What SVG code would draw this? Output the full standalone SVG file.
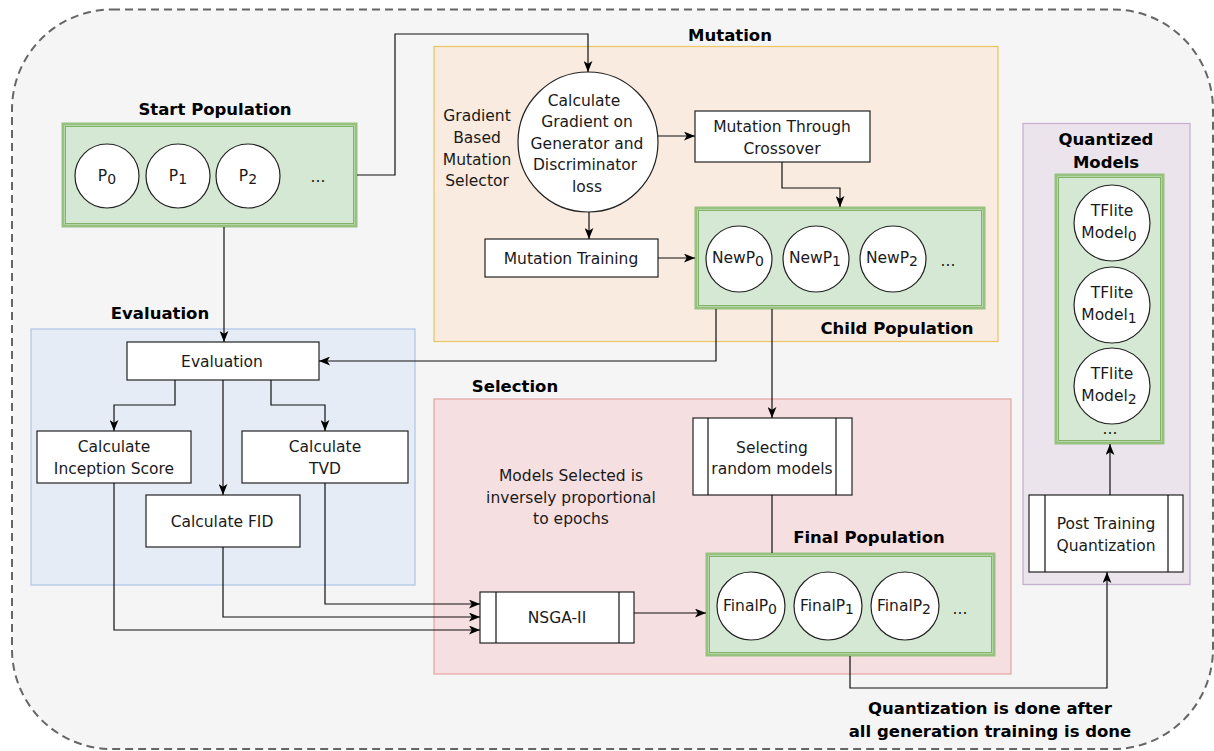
<svg xmlns="http://www.w3.org/2000/svg" width="1214" height="751" viewBox="0 0 1214 751">
<defs>
<marker id="arr" viewBox="0 0 10 8" refX="10" refY="4" markerWidth="11" markerHeight="9" markerUnits="userSpaceOnUse" orient="auto">
<path d="M0,0 L10,4 L0,8 L2.5,4 z" fill="#000"/>
</marker>
<style>
text{font-family:"DejaVu Sans","Liberation Sans",sans-serif;font-size:15.5px;fill:#1a1a1a}
.t{font-weight:bold;font-size:16.5px;fill:#000}
.c{text-anchor:middle}
.box{fill:#fff;stroke:#222;stroke-width:1.2}
.circ{fill:#fff;stroke:#222;stroke-width:1.2}
.gout{fill:#d5e8d4;stroke:#97c17e;stroke-width:3}
.gin{fill:none;stroke:#82b366;stroke-width:1}
.ln{fill:none;stroke:#111;stroke-width:1.2}
.ar{fill:none;stroke:#111;stroke-width:1.2;marker-end:url(#arr)}
.sub{font-size:14px}
</style>
</defs>
<rect id="outer" x="12" y="9.5" width="1201" height="739.5" rx="100" ry="100" fill="#f5f5f5" stroke="#666" stroke-width="2" stroke-dasharray="8,5"/>

<g id="mutation">
<rect x="434" y="46.5" width="564" height="295" fill="#f9ebdf" stroke="#ecc86d" stroke-width="1.3"/>
<text class="t c" x="730" y="41">Mutation</text>
</g>
<g id="evaluation-group">
<rect x="31" y="329" width="384" height="256" fill="#e6ecf6" stroke="#b3c8e8" stroke-width="1.3"/>
<text class="t c" x="160" y="319">Evaluation</text>
</g>
<g id="selection">
<rect x="434" y="399" width="577" height="275" fill="#f6dfe0" stroke="#e6a9a8" stroke-width="1.3"/>
<text class="t c" x="515" y="392">Selection</text>
</g>
<g id="quantized">
<rect x="1023" y="123.5" width="167" height="461" fill="#ebe4ec" stroke="#c7b1d2" stroke-width="1.3"/>
<text class="t c" x="1106" y="145">Quantized</text>
<text class="t c" x="1106" y="168">Models</text>
</g>

<g id="start-population">
<text class="t c" x="215" y="115">Start Population</text>
<rect class="gout" x="63" y="124" width="293" height="102"/>
<rect class="gin" x="65.5" y="126.5" width="288" height="97"/>
<circle class="circ" cx="107" cy="176" r="32"/>
<circle class="circ" cx="178" cy="176" r="32"/>
<circle class="circ" cx="248" cy="176" r="32"/>
<text class="c" x="107" y="181">P<tspan class="sub" dy="3">0</tspan></text>
<text class="c" x="178" y="181">P<tspan class="sub" dy="3">1</tspan></text>
<text class="c" x="248" y="181">P<tspan class="sub" dy="3">2</tspan></text>
<text class="c" x="318" y="182">...</text>
</g>

<g id="gradient-selector">
<text class="c" x="477" y="121">Gradient</text>
<text class="c" x="477" y="143">Based</text>
<text class="c" x="477" y="165">Mutation</text>
<text class="c" x="477" y="186">Selector</text>
</g>
<g id="calc-gradient">
<circle class="circ" cx="588" cy="142" r="70"/>
<text class="c" x="584" y="106">Calculate</text>
<text class="c" x="587" y="127">Gradient on</text>
<text class="c" x="587" y="149">Generator and</text>
<text class="c" x="585" y="170">Discriminator</text>
<text class="c" x="587" y="192">loss</text>
</g>
<g id="crossover">
<rect class="box" x="695" y="111" width="175" height="51"/>
<text class="c" x="782" y="132">Mutation Through</text>
<text class="c" x="782" y="154">Crossover</text>
</g>
<g id="mutation-training">
<rect class="box" x="485" y="239" width="173" height="38"/>
<text class="c" x="571" y="264">Mutation Training</text>
</g>
<g id="child-population">
<rect class="gout" x="696" y="208" width="288" height="100"/>
<rect class="gin" x="698.5" y="210.5" width="283" height="95"/>
<circle class="circ" cx="739" cy="259" r="33"/>
<circle class="circ" cx="816" cy="259" r="33"/>
<circle class="circ" cx="893" cy="259" r="33"/>
<text class="c" x="738" y="263">NewP<tspan class="sub" dy="3">0</tspan></text>
<text class="c" x="815" y="263">NewP<tspan class="sub" dy="3">1</tspan></text>
<text class="c" x="892" y="263">NewP<tspan class="sub" dy="3">2</tspan></text>
<text class="c" x="948" y="266">...</text>
<text class="t c" x="897" y="334">Child Population</text>
</g>

<g id="evaluation">
<rect class="box" x="127" y="342" width="192" height="38"/>
<text class="c" x="222" y="367">Evaluation</text>
</g>
<g id="inception">
<rect class="box" x="37" y="431" width="154" height="52"/>
<text class="c" x="114" y="452">Calculate</text>
<text class="c" x="114" y="474">Inception Score</text>
</g>
<g id="tvd">
<rect class="box" x="242" y="431" width="166" height="52"/>
<text class="c" x="325" y="452">Calculate</text>
<text class="c" x="325" y="474">TVD</text>
</g>
<g id="fid">
<rect class="box" x="146" y="495" width="154" height="52"/>
<text class="c" x="222" y="527">Calculate FID</text>
</g>

<g id="selecting-random">
<rect class="box" x="693" y="418" width="159" height="77"/>
<line class="ln" x1="708" y1="418" x2="708" y2="495"/>
<line class="ln" x1="836" y1="418" x2="836" y2="495"/>
<text class="c" x="772" y="453">Selecting</text>
<text class="c" x="772" y="474">random models</text>
</g>
<g id="selection-note">
<text class="c" x="571" y="481">Models Selected is</text>
<text class="c" x="571" y="503">inversely proportional</text>
<text class="c" x="571" y="524">to epochs</text>
</g>
<g id="nsga">
<rect class="box" x="480" y="592" width="154" height="51"/>
<line class="ln" x1="496" y1="592" x2="496" y2="643"/>
<line class="ln" x1="619" y1="592" x2="619" y2="643"/>
<text class="c" x="557" y="623">NSGA-II</text>
</g>
<g id="final-population">
<text class="t c" x="869" y="543">Final Population</text>
<rect class="gout" x="707" y="554" width="287" height="101"/>
<rect class="gin" x="709.5" y="556.5" width="282" height="96"/>
<circle class="circ" cx="751" cy="606" r="34"/>
<circle class="circ" cx="828" cy="606" r="34"/>
<circle class="circ" cx="905" cy="606" r="34"/>
<text class="c" x="750" y="611">FinalP<tspan class="sub" dy="3">0</tspan></text>
<text class="c" x="827" y="611">FinalP<tspan class="sub" dy="3">1</tspan></text>
<text class="c" x="904" y="611">FinalP<tspan class="sub" dy="3">2</tspan></text>
<text class="c" x="960" y="614">...</text>
</g>

<g id="tflite-models">
<rect class="gout" x="1056" y="175" width="107" height="268"/>
<rect class="gin" x="1058.5" y="177.5" width="102" height="263"/>
<circle class="circ" cx="1112" cy="223" r="38"/>
<circle class="circ" cx="1112" cy="305" r="38"/>
<circle class="circ" cx="1112" cy="386" r="38"/>
<text class="c" x="1112" y="216">TFlite</text>
<text class="c" x="1109" y="238">Model<tspan class="sub" dy="3">0</tspan></text>
<text class="c" x="1112" y="298">TFlite</text>
<text class="c" x="1109" y="320">Model<tspan class="sub" dy="3">1</tspan></text>
<text class="c" x="1112" y="379">TFlite</text>
<text class="c" x="1109" y="401">Model<tspan class="sub" dy="3">2</tspan></text>
<text class="c" x="1110" y="434">...</text>
</g>
<g id="ptq">
<rect class="box" x="1029" y="495" width="154" height="77"/>
<line class="ln" x1="1045" y1="495" x2="1045" y2="572"/>
<line class="ln" x1="1168" y1="495" x2="1168" y2="572"/>
<text class="c" x="1106" y="529">Post Training</text>
<text class="c" x="1106" y="551">Quantization</text>
</g>
<g id="quant-note">
<text class="t c" x="990" y="714">Quantization is done after</text>
<text class="t c" x="990" y="737">all generation training is done</text>
</g>

<g id="connectors">
<path class="ar" d="M357,175 H395 V34 H588 V72"/>
<path class="ar" d="M658,136 H695"/>
<path class="ar" d="M782,162 V188 H840 V207"/>
<path class="ar" d="M589,212 V239"/>
<path class="ar" d="M658,258 H695"/>
<path class="ar" d="M716,309 V361 H319"/>
<path class="ar" d="M772,309 V418"/>
<path class="ar" d="M224,227 V342"/>
<path class="ar" d="M175,380 V405 H114 V431"/>
<path class="ar" d="M223,380 V495"/>
<path class="ar" d="M271,380 V405 H325 V431"/>
<path class="ar" d="M325,483 V604 H480"/>
<path class="ar" d="M223,547 V617 H480"/>
<path class="ar" d="M114,483 V630 H480"/>
<path class="ar" d="M634,613 H706"/>
<path class="ln" d="M772,495 V553"/>
<path class="ar" d="M850,656 V688 H1107 V572"/>
<path class="ar" d="M1110,495 V444"/>
</g>
</svg>
